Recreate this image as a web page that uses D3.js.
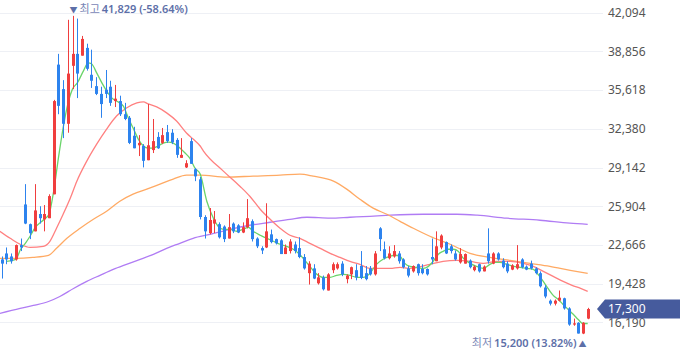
<!DOCTYPE html>
<html><head><meta charset="utf-8">
<script src="https://cdn.jsdelivr.net/npm/d3@7/dist/d3.min.js"></script>
<style>
html,body{margin:0;padding:0;background:#fff;}
svg{display:block;font-family:"Noto Sans","Noto Sans CJK KR",sans-serif;}
</style></head>
<body><svg id="c" width="680" height="358"></svg>
<script>
// ---- data ----
const open  = [21450,21950,21700,21450,22650,26050,24400,23800,25250,24800,24900,26900,37750,35700,32800,37650,38650,38500,39150,36900,35950,35300,35650,35900,34700,34700,33600,33300,31800,31000,30950,29750,30600,31700,31200,32100,32050,31450,29950,29150,31350,29000,28150,25000,23650,24450,24400,24200,23200,24450,24300,23700,24150,24650,23200,22400,22450,23550,23150,23050,21900,22150,22700,22400,21650,20300,20700,19450,19950,18850,20550,20700,21100,19800,20200,20550,20900,20300,20700,20200,24050,22300,21550,21700,21950,21450,20700,20450,21050,20650,20650,21650,21300,22450,22900,22550,21950,21200,21100,21350,20550,21050,20450,21950,21100,21950,21350,21100,20600,20700,21450,20850,21100,20700,20300,19100,18000,17750,18000,18200,17350,16000,16150,15250,16500];
const high  = [21700,22450,21950,22700,23200,27750,24450,27750,25900,26000,26900,34800,38650,36450,41500,41829,41600,40150,39500,39000,36700,35900,37300,36400,36050,35150,34550,33450,32550,31850,31100,34450,33200,32100,32450,32700,32350,31600,31600,29750,31600,29100,28350,25150,25750,25500,24550,24300,25250,24550,24400,24550,26500,24800,23300,22550,26150,23950,23200,23150,22700,23150,22950,23300,21900,21300,21050,20300,20100,20300,21200,21200,21300,20200,20850,21050,22150,20900,20900,22150,24150,22950,22550,22650,22150,21550,20900,20950,21100,21050,20700,23200,23800,23550,22950,22700,22200,22400,21950,21450,20950,21100,20950,24050,22050,22050,21550,21300,21050,22650,21550,20950,21350,20800,20450,19300,18100,18100,18850,18250,17450,16500,16200,16200,17400];
const low   = [19850,21050,21100,21350,22150,24400,23150,23800,24450,23800,24900,26900,33600,31600,32050,35700,34950,38500,37250,35800,35200,33300,34950,34300,34200,33450,33100,31100,30750,30100,29150,29750,30350,30700,31100,31200,31100,29950,29950,29100,29450,28000,24800,23200,23550,23650,23200,22900,23200,23650,23650,23650,24050,22950,22400,21900,22400,22800,22700,21900,21900,21950,21950,21550,20600,19350,19800,19350,18850,18850,20300,20600,20050,19450,19800,19700,19800,19700,20100,20100,22150,21450,21450,21600,21100,20700,19950,20350,20100,20200,20100,21050,21300,22300,21900,21950,21350,21100,21100,20700,20450,20350,20450,21100,21050,21350,20700,20300,20550,20600,20700,20550,20600,20200,19100,18200,17600,17600,17950,17250,15900,15900,15250,15200,16450];
const close = [21100,21450,21300,22650,22450,24450,23650,25550,24900,25250,26750,34700,34300,32800,37000,38650,37000,39900,37400,36400,35300,34450,35300,34550,34900,33600,33200,31200,30750,31200,29700,31000,31350,30750,31850,31350,31250,30200,30200,29500,29450,28400,25000,23800,24750,24800,23300,23150,24150,23800,23700,24150,24900,23150,22550,22200,23800,22900,22800,21900,22450,22950,22150,21650,20700,21100,19850,19950,18950,20200,21050,21050,20200,20100,20800,19950,19900,19800,20200,21950,23150,21550,21950,22150,21300,20800,20100,20900,20300,20300,20200,21450,22550,23450,21950,22150,21450,21900,21900,20800,20850,20450,20850,21300,21950,21450,20800,20450,20950,21050,20800,20600,20700,20300,19200,18350,17750,18000,18250,17350,16000,16100,15250,16150,17300];

// moving averages: [candle index, value]
const ma5 = [[1,21290],[3,21460],[4,22300],[5,22800],[6,23390],[7,24060],[9,24810],[10,25230],[11,27160],[12,29930],[13,32450],[14,34460],[15,35720],[16,36220],[17.3,37230],[18.3,37900],[19,37820],[20.1,37060],[21.2,36220],[22.2,35550],[23.3,34960],[24.3,34710],[25.7,34290],[26.8,33290],[27.8,32450],[28.9,31520],[30,30940],[31,30770],[32,30770],[33.1,30940],[34.2,31190],[35.3,31270],[36.3,31190],[37.7,30770],[38.8,30350],[39.8,29930],[40.9,29090],[42,28590],[43.4,26320],[44.8,24900],[45.8,24230],[46.9,23970],[48.3,23970],[49.7,23810],[51.1,23970],[52.2,24140],[53.2,23810],[54.7,23470],[56.1,23220],[57.5,22970],[58.9,22720],[60.3,22550],[61.7,22300],[62.8,21960],[63.8,21540],[65.2,20870],[66.7,20200],[68,19950],[69.5,19950],[70.9,20120],[72.3,20200],[73.7,20120],[75.1,19950],[76.5,19950],[77.9,20280],[79.3,21040],[80.7,21460],[82.1,21700],[83.2,21800],[84.3,21710],[85.3,21120],[86.4,20870],[87.8,20790],[89.2,20700],[90.3,20870],[91.3,21290],[92.4,21880],[93.4,22130],[94.5,22300],[95.6,22300],[96.6,22130],[97.7,21540],[99.1,21120],[100.5,20870],[101.9,20700],[103.3,21040],[104.4,21200],[105.4,21200],[106.9,21040],[108.3,20870],[109.7,20790],[111.1,20700],[112.5,20620],[113.5,20200],[114.6,19610],[115.6,19020],[116.7,18440],[117.8,18100],[118.8,17680],[119.9,17260],[121,16840],[122,16420],[123,16090],[124,16090]];
const ma20 = [[-0.4,23810],[1.8,23220],[3.9,22720],[6,22460],[8.8,22550],[10.2,22970],[11.6,24060],[13,25230],[14.5,26570],[15.9,28000],[18,29680],[20.1,31100],[22.2,32360],[24.3,33450],[26.4,34120],[28.6,34540],[30,34630],[31,34460],[32.8,34210],[34.9,33710],[37,33030],[39.1,32030],[40.5,31520],[42,30940],[42.7,30520],[46.9,28840],[50.4,27580],[52.5,26740],[54.7,25650],[56.8,24810],[58.9,24060],[61,23470],[63.1,23220],[65.2,22800],[67.4,22380],[69.5,21960],[71.6,21620],[73.7,21290],[75.8,21040],[77.9,20700],[80,20700],[82.2,20700],[84.3,20790],[86.4,20700],[90.6,21040],[93.4,21290],[96.3,21370],[99.1,21290],[101.9,21120],[104.7,21290],[107.6,21290],[110.4,21120],[112.5,20870],[114.6,20450],[116.7,20030],[118.8,19610],[120.7,19280],[122.5,19020],[124,18770]];
const ma60 = [[-0.4,21540],[2.8,21540],[6.6,21620],[9.9,21790],[11.6,22380],[13.8,23220],[16.6,24060],[19.4,24810],[22.2,25480],[25,26320],[27.8,26910],[30.7,27330],[33.5,27750],[36.3,28170],[39.1,28500],[42,28500],[47.6,28340],[53.2,28420],[58.9,28500],[63.1,28590],[65.9,28420],[70.2,28000],[73,27330],[75.8,26490],[78.6,25740],[81.5,25230],[84.3,24640],[87.1,24060],[90.6,23390],[94.9,22720],[99.1,21960],[103.3,21620],[107.6,21370],[111.8,21120],[116,20870],[120.3,20540],[124,20280]];
const ma120 = [[-0.4,16930],[3.9,17350],[6.7,17600],[9.9,17930],[12.3,18350],[15.2,19020],[18,19610],[20.8,20120],[23.6,20620],[26.4,21040],[29.3,21460],[32.1,21880],[34.9,22380],[37.7,22800],[40.5,23220],[44.1,23550],[48.3,23970],[52.5,24310],[56.8,24560],[61,24810],[64.6,24980],[69.5,24900],[73.7,24980],[77.9,25060],[82.2,25150],[89.2,25230],[96.3,25230],[100.6,25150],[106.9,24900],[113.9,24730],[120.2,24480],[124,24390]];

const tickValues = [42094,38856,35618,32380,29142,25904,22666,19428,16190];
const lastLabel = "17,300";
const highLabel = ["최고", "41,829 (-58.64%)"];
const lowLabel  = ["최저", "15,200 (13.82%)"];

// ---- drawing ----
const svg = d3.select("#c");
const plotRight = 603;
const n = close.length;
const x = d3.scaleLinear().domain([0, n - 1]).range([1.7, 587.7]);
const y = d3.scaleLinear().domain([16190, 42094]).range([322.3, 12.7]);
const UP = "#f03e3e", DOWN = "#2d83ee";

// grid
svg.append("g").selectAll("line").data(tickValues).join("line")
  .attr("x1", 0).attr("x2", plotRight)
  .attr("y1", d => Math.round(y(d)) + 0.5).attr("y2", d => Math.round(y(d)) + 0.5)
  .attr("stroke", "#eef0f5").attr("stroke-width", 1);

// axis labels
const ax = d3.axisRight(y).tickValues(tickValues).tickSize(0).tickPadding(0).tickFormat(d3.format(","));
const axG = svg.append("g").attr("transform", `translate(608,0)`).call(ax);
axG.select(".domain").remove();
axG.selectAll("text").attr("fill", "#555").attr("font-size", "12px")
  .attr("font-family", "'Noto Sans', sans-serif");

const plot = svg.append("g");
svg.append("clipPath").attr("id", "clip").append("rect").attr("x", 0).attr("y", 0).attr("width", plotRight).attr("height", 340);

// moving average lines
const lineGen = d3.line().x(d => x(d[0])).y(d => y(d[1])).curve(d3.curveMonotoneX);
const mas = [[ma120, "#b07cf4"], [ma60, "#ffaa64"], [ma20, "#ff8080"], [ma5, "#6ad46a"]];
plot.append("g").attr("clip-path", "url(#clip)").selectAll("path").data(mas).join("path")
  .attr("d", d => lineGen(d[0])).attr("fill", "none")
  .attr("stroke", d => d[1]).attr("stroke-width", 1.3);

// candles
const idx = d3.range(n);
const cg = plot.append("g");
cg.selectAll("line").data(idx).join("line")
  .attr("x1", i => Math.round(x(i)) + 0.5).attr("x2", i => Math.round(x(i)) + 0.5)
  .attr("y1", i => y(high[i])).attr("y2", i => y(low[i]))
  .attr("stroke", i => close[i] >= open[i] ? UP : DOWN).attr("stroke-width", 1);
cg.selectAll("rect").data(idx).join("rect")
  .attr("x", i => Math.round(x(i)) - 1)
  .attr("width", 3)
  .attr("y", i => y(Math.max(open[i], close[i])))
  .attr("height", i => Math.max(1, Math.abs(y(open[i]) - y(close[i]))))
  .attr("fill", i => close[i] >= open[i] ? UP : DOWN);

// high / low markers
const hiI = d3.maxIndex(high), loI = d3.minIndex(low);
const hiT = svg.append("text").attr("x", x(hiI) - 3).attr("y", 9).attr("dy", "0.35em")
  .attr("font-size", "11px").attr("fill", "#5d6fa8");
hiT.append("tspan").attr("font-size", "8px").text("▼");
hiT.append("tspan").attr("dx", 2).attr("fill", "#7986b6").attr("font-family", "'Noto Sans CJK KR', sans-serif").text(highLabel[0]);
hiT.append("tspan").attr("dx", 2).attr("font-weight", 600).text(highLabel[1]);

const loT = svg.append("text").attr("x", x(loI) + 3.5).attr("y", 343).attr("dy", "0.35em")
  .attr("text-anchor", "end").attr("font-size", "11px").attr("fill", "#5d6fa8");
loT.append("tspan").attr("fill", "#7986b6").attr("font-family", "'Noto Sans CJK KR', sans-serif").text(lowLabel[0]);
loT.append("tspan").attr("dx", 2).attr("font-weight", 600).text(lowLabel[1]);
loT.append("tspan").attr("dx", 2).attr("font-size", "8px").text("▲");

// last price tag
const ly = y(close[n - 1]);
svg.append("path")
  .attr("d", `M597,${ly} L605,${ly - 9.5} L680,${ly - 9.5} L680,${ly + 9.5} L605,${ly + 9.5} Z`)
  .attr("fill", "#465b9d");
svg.append("text").attr("x", 608).attr("y", ly).attr("dy", "0.35em")
  .attr("font-size", "12px").attr("fill", "#fff").text(lastLabel);
</script></body></html>
